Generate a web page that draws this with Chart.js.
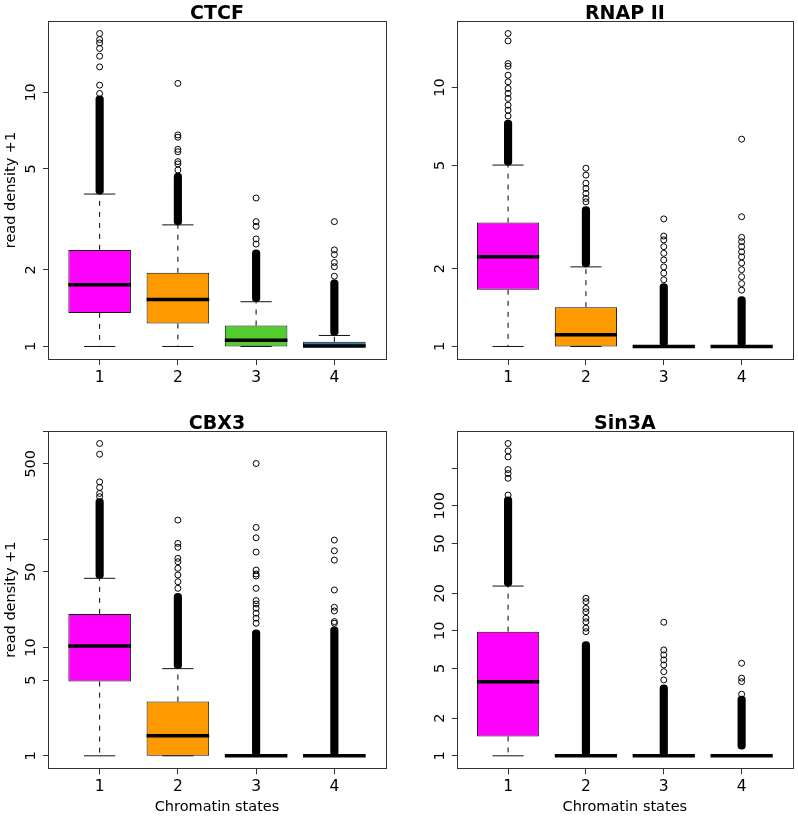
<!DOCTYPE html>
<html>
<head>
<meta charset="utf-8">
<script src="https://cdn.jsdelivr.net/npm/chart.js@4"></script>
<style>
  body { margin: 0; background: #fff; }
  .panel { position: absolute; }
</style>
</head>
<body>
<div class="panel" style="left:0;top:0"><canvas id="c-ctcf" width="399" height="400"></canvas></div>
<div class="panel" style="left:399px;top:0"><canvas id="c-rnap" width="399" height="400"></canvas></div>
<div class="panel" style="left:0;top:400px"><canvas id="c-cbx3" width="399" height="416"></canvas></div>
<div class="panel" style="left:399px;top:400px"><canvas id="c-sin3a" width="399" height="416"></canvas></div>
<script>
// Chromatin states (x) and box colours
const states = [1, 2, 3, 4];
const boxColors = ['#FF00FF', '#FF9900', '#52CC2E', '#2F7FAF'];

// box stats per state: [lower whisker, q1, median, q3, upper whisker]
const ctcfStats = [[1, 1.356, 1.75, 2.40, 3.98], [1, 1.231, 1.53, 1.95, 3.01], [1, 1.0, 1.059, 1.209, 1.50], [1, 1.0, 1.005, 1.043, 1.105]];
const rnapStats = [[1, 1.655, 2.22, 3.01, 5.02], [1, 1.0, 1.109, 1.419, 2.03], [1, 1, 1, 1, 1], [1, 1, 1, 1, 1]];
const cbx3Stats = [[1, 4.85, 10.36, 20.5, 43.7], [1, 1.0, 1.53, 3.17, 6.39], [1, 1, 1, 1, 1], [1, 1, 1, 1, 1]];
const sin3aStats = [[1, 1.43, 3.92, 9.84, 22.8], [1, 1, 1, 1, 1], [1, 1, 1, 1, 1], [1, 1, 1, 1, 1]];

// ranges where the outlier circles overlap into a solid column
const ctcfDense = [[3.98, 9.7], [3.01, 4.81], [1.50, 2.40], [1.105, 1.83]];
const rnapDense = [[5.02, 7.49], [2.03, 3.47], [1, 1.75], [1, 1.56]];
const cbx3Dense = [[43.7, 239], [6.39, 31.8], [1, 14.6], [1, 15.6]];
const sin3aDense = [[22.8, 118], [1, 8.19], [1, 3.69], [1.13, 3.0]];

// separate outliers
const ctcfOutliers = [
    [9.9, 10.68, 12.6, 13.88, 14.89, 15.66, 16.15, 17.05],
    [4.95, 5.23, 5.34, 5.84, 5.97, 6.66, 6.8, 10.85],
    [2.53, 2.65, 2.97, 3.10, 3.84],
    [1.89, 2.06, 2.14, 2.30, 2.40, 3.10]
];
const rnapOutliers = [
    [7.76, 8.18, 8.55, 9.08, 9.49, 9.92, 10.52, 11.16, 12.09, 12.38, 15.14, 16.17],
    [3.62, 3.73, 3.90, 4.08, 4.27, 4.59, 4.88],
    [1.81, 1.92, 2.03, 2.16, 2.29, 2.43, 2.58, 2.67, 3.11],
    [1.65, 1.75, 1.86, 1.98, 2.10, 2.22, 2.32, 2.43, 2.54, 2.64, 3.17, 6.32]
];
const cbx3Outliers = [
    [248, 266, 302, 340, 613, 770],
    [35.3, 40.6, 46.9, 54.1, 62.2, 66.8, 84.5, 91.9, 150.8],
    [16.8, 18.7, 20.8, 23.1, 25.3, 27.2, 35.3, 45.9, 47.9, 52.1, 76.4, 103.5, 129, 503],
    [16.8, 17.4, 21.8, 23.6, 34.1, 64.4, 78.5, 98.6]
];
const sin3aOutliers = [
    [122, 166, 181, 195, 246, 275, 315],
    [1.06, 9.84, 10.5, 11.8, 12.6, 14.2, 15.1, 17.1, 18.2],
    [4.05, 4.71, 5.33, 5.85, 6.41, 7.03, 11.7],
    [3.11, 3.92, 4.18, 5.50]
];

// y tick values and labels (empty label = tick mark only)
const smallTicks = [1, 2, 5, 10];
const smallTickLabels = ['1', '2', '5', '10'];
const cbx3Ticks = [1, 5, 10, 50, 100, 500, 1000];
const cbx3TickLabels = ['1', '5', '10', '50', '', '500', ''];
const sin3aTicks = [1, 2, 5, 10, 20, 50, 100, 200];
const sin3aTickLabels = ['1', '2', '5', '10', '20', '50', '100', ''];

const BOX_HALF = 0.4;
const CAP_HALF = 0.2;

Chart.defaults.font.family = '"DejaVu Sans", sans-serif';
Chart.defaults.color = '#000';

const panelDecor = {
    id: 'panelDecor',
    afterDraw(chart, args, opts) {
        const { ctx, chartArea: a } = chart;
        const yScale = chart.scales.y;
        ctx.save();
        ctx.strokeStyle = '#333';
        ctx.lineWidth = 1;
        ctx.strokeRect(Math.round(a.left) + 0.5, Math.round(a.top) + 0.5,
            Math.round(a.right - a.left), Math.round(a.bottom - a.top));

        ctx.fillStyle = '#000';
        ctx.font = 'bold 19px "DejaVu Sans"';
        ctx.textAlign = 'center';
        ctx.textBaseline = 'alphabetic';
        ctx.fillText(opts.title, (a.left + a.right) / 2, a.top - 2.5);

        ctx.font = '14.5px "DejaVu Sans"';
        ctx.textBaseline = 'middle';
        opts.ticks.forEach((v, i) => {
            const lab = opts.labels[i];
            if (!lab) return;
            const py = yScale.getPixelForValue(v);
            ctx.save();
            ctx.translate(a.left - 16.7, py);
            ctx.rotate(-Math.PI / 2);
            ctx.fillText(lab, 0, 0);
            ctx.restore();
        });
        ctx.restore();
    }
};

function buildDatasets(stats, dense, outliers) {
    const whisk = [], caps = [], meds = [], pts = [];
    stats.forEach((s, i) => {
        const x = states[i];
        const [lo, q1, med, q3, hi] = s;
        whisk.push({ x, y: q3 }, { x, y: hi }, { x, y: null }, { x, y: q1 }, { x, y: lo }, { x, y: null });
        caps.push({ x: x - CAP_HALF, y: hi }, { x: x + CAP_HALF, y: hi }, { x, y: null },
                  { x: x - CAP_HALF, y: lo }, { x: x + CAP_HALF, y: lo }, { x, y: null });
        meds.push({ x: x - BOX_HALF, y: med }, { x: x + BOX_HALF, y: med }, { x, y: null });
        outliers[i].forEach(v => pts.push({ x, y: v }));
    });
    return [
        { type: 'line', data: meds, borderColor: '#000', borderWidth: 3.5, borderCapStyle: 'butt', pointRadius: 0 },
        { type: 'line', data: caps, borderColor: '#111', borderWidth: 1, pointRadius: 0 },
        { type: 'scatter', data: pts, pointRadius: 3, pointBorderWidth: 1,
          borderColor: '#000', backgroundColor: 'rgba(0,0,0,0)' },
        { type: 'bar', data: dense.map((d, i) => ({ x: states[i], y: d })),
          backgroundColor: '#000', barThickness: 7.5, borderRadius: 3.75, borderSkipped: false, grouped: false },
        { type: 'bar', data: stats.map((s, i) => ({ x: states[i], y: [s[1], s[3]] })),
          backgroundColor: boxColors, borderColor: '#111', borderWidth: 1, borderSkipped: false,
          grouped: false, barPercentage: 0.8, categoryPercentage: 1 },
        { type: 'line', data: whisk, borderColor: '#000', borderWidth: 1, borderDash: [5, 6], pointRadius: 0 }
    ];
}

function makePanel(id, title, stats, dense, outliers, ticks, labels, layout) {
    // R-style limits: 4% extension of the data range (log10 for y)
    const all = outliers.flat().concat(stats.flat());
    const lo = Math.log10(Math.min(...all));
    const hi = Math.log10(Math.max(...all));
    const pad = 0.04 * (hi - lo);

    new Chart(document.getElementById(id), {
        type: 'scatter',
        data: { datasets: buildDatasets(stats, dense, outliers) },
        options: {
            responsive: false,
            animation: false,
            devicePixelRatio: 1,
            events: [],
            layout: { padding: { left: 0, top: layout.top, right: layout.right, bottom: 0 } },
            plugins: {
                legend: { display: false },
                tooltip: { enabled: false },
                panelDecor: { title, ticks, labels }
            },
            scales: {
                x: {
                    type: 'linear',
                    bounds: 'data',
                    offset: false,
                    min: 0.5 - 0.04 * 4,
                    max: 4.5 + 0.04 * 4,
                    afterBuildTicks: axis => { axis.ticks = states.map(v => ({ value: v })); },
                    afterFit: axis => { axis.height = layout.xh; },
                    ticks: { font: { size: 15.5 }, padding: 3.5, color: '#000' },
                    grid: { offset: false, drawOnChartArea: false, drawTicks: true, tickLength: 6, color: '#333' },
                    border: { display: false },
                    title: {
                        display: layout.xTitle,
                        text: 'Chromatin states',
                        font: { size: 14.5 },
                        padding: { top: 0, bottom: 0.5 }
                    }
                },
                y: {
                    type: 'logarithmic',
                    bounds: 'data',
                    min: Math.pow(10, lo - pad),
                    max: Math.pow(10, hi + pad),
                    afterBuildTicks: axis => { axis.ticks = ticks.map(v => ({ value: v })); },
                    afterFit: axis => { axis.width = layout.yw; },
                    ticks: { display: false },
                    grid: { drawOnChartArea: false, drawTicks: true, tickLength: 5, color: '#333' },
                    border: { display: false },
                    title: {
                        display: layout.yTitle,
                        text: 'read density +1',
                        font: { size: 14.5 },
                        padding: { top: 3, bottom: 0 }
                    }
                }
            }
        },
        plugins: [panelDecor]
    });
}

makePanel('c-ctcf', 'CTCF', ctcfStats, ctcfDense, ctcfOutliers, smallTicks, smallTickLabels,
    { top: 21, right: 13, yw: 48, xh: 41, yTitle: true, xTitle: false });
makePanel('c-rnap', 'RNAP II', rnapStats, rnapDense, rnapOutliers, smallTicks, smallTickLabels,
    { top: 21, right: 3.3, yw: 57.7, xh: 41, yTitle: false, xTitle: false });
makePanel('c-cbx3', 'CBX3', cbx3Stats, cbx3Dense, cbx3Outliers, cbx3Ticks, cbx3TickLabels,
    { top: 31, right: 13, yw: 48, xh: 47.7, yTitle: true, xTitle: true });
makePanel('c-sin3a', 'Sin3A', sin3aStats, sin3aDense, sin3aOutliers, sin3aTicks, sin3aTickLabels,
    { top: 31, right: 3.3, yw: 57.7, xh: 47.7, yTitle: false, xTitle: true });
</script>
</body>
</html>
